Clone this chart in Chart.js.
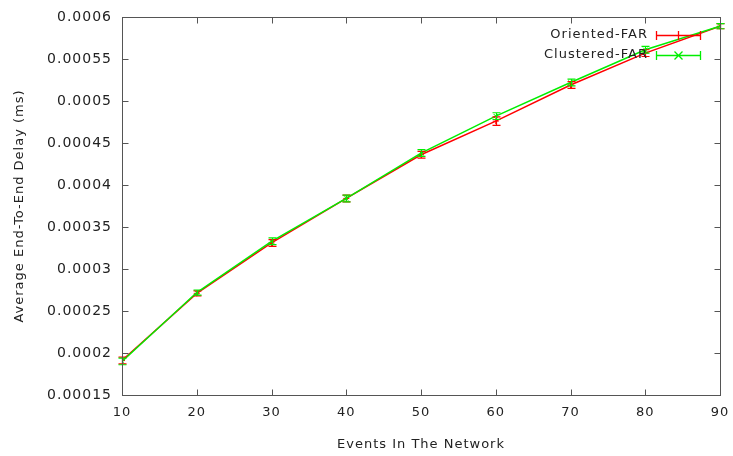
<!DOCTYPE html>
<html>
<head>
<meta charset="utf-8">
<script src="https://cdn.jsdelivr.net/npm/chart.js@4"></script>
<style>
  html, body { margin: 0; padding: 0; background: #fff; }
  #wrap { width: 733px; height: 456px; }
</style>
</head>
<body>
<div id="wrap"><canvas id="delayChart" width="733" height="456"></canvas></div>
<script>
const events = [10, 20, 30, 40, 50, 60, 70, 80, 90];
const orientedDelay = [0.000191, 0.000271, 0.000331, 0.000384, 0.000436, 0.000476, 0.000519, 0.000557, 0.000589];
const orientedErr = [0.000004, 0.000003, 0.000004, 0.000004, 0.000004, 0.000005, 0.000004, 0.000004, 0.000003];
const clusteredDelay = [0.000190, 0.000272, 0.000333, 0.000384, 0.000438, 0.000482, 0.000522, 0.000561, 0.000589];
const clusteredErr = [0.000004, 0.000003, 0.000004, 0.000004, 0.000004, 0.000004, 0.000004, 0.000004, 0.000003];
const yTickLabels = ["0.00015", "0.0002", "0.00025", "0.0003", "0.00035", "0.0004", "0.00045", "0.0005", "0.00055", "0.0006"];

const FONT = "'DejaVu Sans', sans-serif";

// gnuplot's text is spaced a bit wider
const spacing = {
  id: "spacing",
  beforeLayout(chart) { chart.ctx.letterSpacing = "1px"; },
  beforeDraw(chart) { chart.ctx.letterSpacing = "1px"; }
};

// error bars + gnuplot style border/ticks + legend
const gnuplotStyle = {
  id: "gnuplotStyle",
  afterDatasetsDraw(chart) {
    const ctx = chart.ctx;
    const x = chart.scales.x, y = chart.scales.y;
    const area = chart.chartArea;
    ctx.save();

    chart.data.datasets.forEach((ds) => {
      ctx.strokeStyle = ds.borderColor;
      ctx.lineWidth = 1.2;
      ds.data.forEach((p, i) => {
        const px = Math.round(x.getPixelForValue(p.x)) + 0.5;
        const y1 = y.getPixelForValue(p.y - ds.err[i]);
        const y2 = y.getPixelForValue(p.y + ds.err[i]);
        ctx.beginPath();
        ctx.moveTo(px, y1); ctx.lineTo(px, y2);
        ctx.moveTo(px - 4, y1); ctx.lineTo(px + 4, y1);
        ctx.moveTo(px - 4, y2); ctx.lineTo(px + 4, y2);
        ctx.stroke();
      });
    });

    // border
    ctx.strokeStyle = "#555";
    ctx.lineWidth = 1;
    const l = Math.round(area.left) + 0.5, r = Math.round(area.right) + 0.5;
    const t = Math.round(area.top) + 0.5, b = Math.round(area.bottom) + 0.5;
    ctx.strokeRect(l, t, r - l, b - t);
    ctx.beginPath();
    x.ticks.forEach((tk) => {
      const px = Math.round(x.getPixelForValue(tk.value)) + 0.5;
      ctx.moveTo(px, b); ctx.lineTo(px, b - 6);
      ctx.moveTo(px, t); ctx.lineTo(px, t + 6);
    });
    y.ticks.forEach((tk) => {
      const py = Math.round(y.getPixelForValue(tk.value)) + 0.5;
      ctx.moveTo(l, py); ctx.lineTo(l + 6, py);
      ctx.moveTo(r, py); ctx.lineTo(r - 6, py);
    });
    ctx.stroke();

    // legend
    ctx.font = "13px " + FONT;
    ctx.textAlign = "right";
    ctx.textBaseline = "middle";
    chart.data.datasets.forEach((ds, i) => {
      const ly = 35 + i * 20;
      ctx.fillStyle = "#222";
      ctx.fillText(ds.label, 648, ly);
      ctx.strokeStyle = ds.borderColor;
      ctx.lineWidth = 1.3;
      ctx.beginPath();
      ctx.moveTo(656, ly + 0.5); ctx.lineTo(701, ly + 0.5);
      ctx.moveTo(656.5, ly - 4); ctx.lineTo(656.5, ly + 5);
      ctx.moveTo(700.5, ly - 4); ctx.lineTo(700.5, ly + 5);
      const cx = 678.5;
      if (ds.pointStyle === "cross") {
        ctx.moveTo(cx, ly - 4); ctx.lineTo(cx, ly + 5);
      } else {
        ctx.moveTo(cx - 4, ly - 3.5); ctx.lineTo(cx + 4, ly + 4.5);
        ctx.moveTo(cx + 4, ly - 3.5); ctx.lineTo(cx - 4, ly + 4.5);
      }
      ctx.stroke();
    });
    ctx.restore();
  }
};

new Chart(document.getElementById("delayChart"), {
  type: "line",
  data: {
    datasets: [
      {
        label: "Oriented-FAR",
        data: events.map((e, i) => ({ x: e, y: orientedDelay[i] })),
        err: orientedErr,
        order: 1,
        borderColor: "#ff0000",
        backgroundColor: "#ff0000",
        borderWidth: 1.5,
        pointStyle: "cross",
        pointRadius: 3,
        pointBorderWidth: 1,
        tension: 0
      },
      {
        label: "Clustered-FAR",
        data: events.map((e, i) => ({ x: e, y: clusteredDelay[i] })),
        err: clusteredErr,
        order: 0,
        borderColor: "#00ee00",
        backgroundColor: "#00ee00",
        borderWidth: 1.5,
        pointStyle: "crossRot",
        pointRadius: 3,
        pointBorderWidth: 1,
        tension: 0
      }
    ]
  },
  options: {
    responsive: false,
    animation: false,
    layout: { padding: { left: 0, right: 13, top: 17, bottom: 0 } },
    plugins: { legend: { display: false }, tooltip: { enabled: false } },
    scales: {
      x: {
        type: "linear",
        min: 10,
        max: 90,
        afterFit(s) { s.height = 61; s.paddingLeft = 0; s.paddingRight = 0; },
        grid: { display: false, drawTicks: false },
        border: { display: false },
        ticks: { stepSize: 10, padding: 10, color: "#222", font: { family: FONT, size: 13 } },
        title: {
          display: true,
          text: "Events In The Network",
          color: "#222",
          font: { family: FONT, size: 13 },
          padding: { top: 0, bottom: 4 }
        }
      },
      y: {
        min: 0.00015,
        max: 0.0006,
        afterFit(s) { s.width = 122; s.paddingTop = 0; s.paddingBottom = 0; },
        grid: { display: false, drawTicks: false },
        border: { display: false },
        afterBuildTicks(s) {
          s.ticks = yTickLabels.map((lb) => ({ value: parseFloat(lb) }));
        },
        ticks: {
          padding: 10,
          color: "#222",
          font: { family: FONT, size: 14 },
          callback: (v, i) => yTickLabels[i]
        },
        title: {
          display: true,
          text: "Average End-To-End Delay (ms)",
          color: "#222",
          font: { family: FONT, size: 13 },
          padding: { top: 12, bottom: 0 }
        }
      }
    }
  },
  plugins: [spacing, gnuplotStyle]
});
</script>
</body>
</html>
